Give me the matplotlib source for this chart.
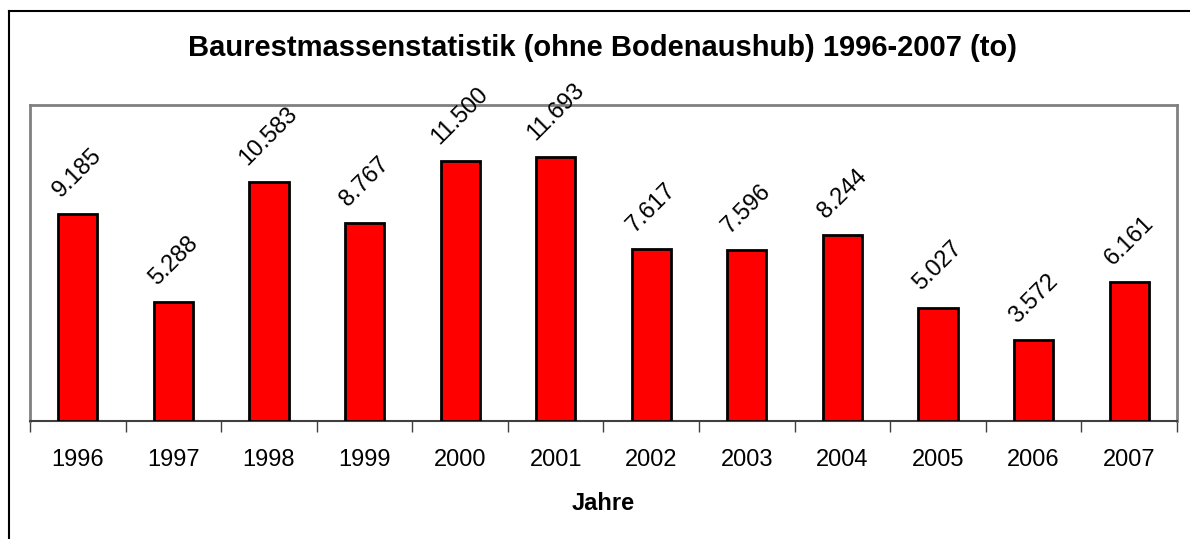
import matplotlib
matplotlib.use("Agg")
import matplotlib.pyplot as plt
from matplotlib.lines import Line2D

years = ["1996", "1997", "1998", "1999", "2000", "2001",
         "2002", "2003", "2004", "2005", "2006", "2007"]
values = [9185, 5288, 10583, 8767, 11500, 11693,
          7617, 7596, 8244, 5027, 3572, 6161]
title = "Baurestmassenstatistik (ohne Bodenaushub) 1996-2007 (to)"
xlabel = "Jahre"

plt.rcParams['font.family'] = ['Liberation Sans', 'DejaVu Sans']

W, H = 1190, 539
fig = plt.figure(figsize=(W / 100, H / 100), dpi=100)

L, R, T, B = 30, 1177, 105, 421
ax = fig.add_axes([L / W, 1 - B / H, (R - L) / W, (B - T) / H])

x = list(range(len(years)))
ax.bar(x, values, width=0.41, color="#FF0000", edgecolor="black", linewidth=2, zorder=3)
ax.set_xlim(-0.5, len(years) - 0.5)
ax.set_ylim(0, 14000)
ax.set_yticks([])

ax.set_xticks(x)
ax.set_xticklabels(years, fontsize=17)
ax.tick_params(axis='x', which='major', length=0, pad=20)
ax.set_xticks([i + 0.5 for i in range(-1, len(years))], minor=True)
ax.tick_params(axis='x', which='minor', length=8, width=1, color="#404040", direction='out')

for s in ['top', 'left', 'right']:
    ax.spines[s].set_color("#808080")
    ax.spines[s].set_linewidth(2)
ax.spines['bottom'].set_color("#404040")
ax.spines['bottom'].set_linewidth(1.5)

for xi, v in zip(x, values):
    lbl = f"{v:,}".replace(",", ".")
    ax.annotate(lbl, (xi, v), xytext=(0, 9), textcoords="offset points",
                rotation=45, ha="center", va="bottom", fontsize=17,
                annotation_clip=False)

ax.set_xlabel(xlabel, fontsize=17, fontweight="bold", labelpad=15)

fig.text(602 / W, 1 - 48 / H, title, ha="center", va="center",
         fontsize=21, fontweight="bold")

# outer chart border (left and top only visible)
fig.add_artist(Line2D([9 / W, 9 / W], [0, 1 - 11 / H], color="black", linewidth=1.5,
                      transform=fig.transFigure))
fig.add_artist(Line2D([9 / W, 1], [1 - 11 / H, 1 - 11 / H], color="black", linewidth=1.5,
                      transform=fig.transFigure))

fig.savefig("out.png", dpi=100)
